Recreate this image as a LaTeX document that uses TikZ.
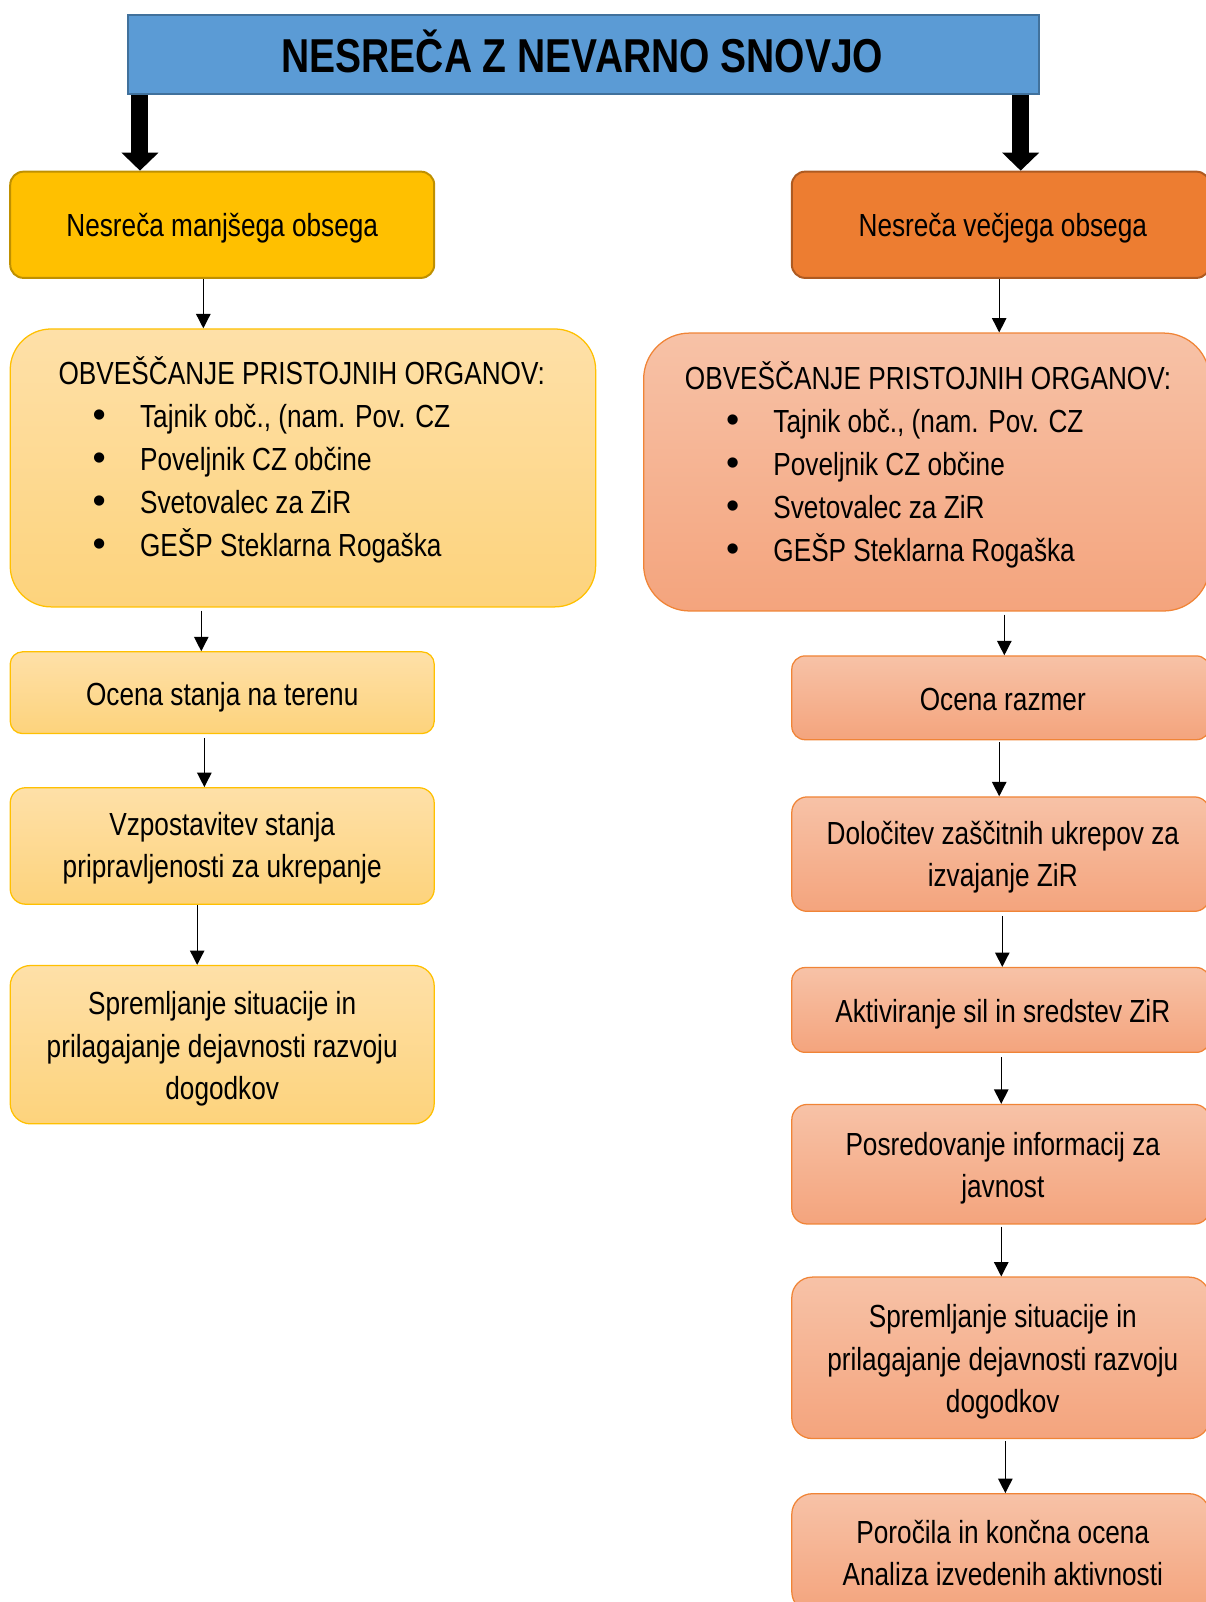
\documentclass[tikz,border=0pt]{standalone}
\usepackage{fontspec}
\setmainfont{Liberation Sans}[FakeStretch=0.82]
\newfontfamily\bulfont{Liberation Sans}
\usetikzlibrary{arrows.meta,fit}
\definecolor{titleblue}{HTML}{5B9BD5}
\definecolor{titleedge}{HTML}{41719C}
\definecolor{gold}{HTML}{FFC000}
\definecolor{goldedge}{HTML}{BF9000}
\definecolor{orng}{HTML}{ED7D31}
\definecolor{orngedge}{HTML}{AE5A21}
\definecolor{ytop}{HTML}{FEE0A8}
\definecolor{ybot}{HTML}{FDD37C}
\definecolor{otop}{HTML}{F7C2A7}
\definecolor{obot}{HTML}{F4A47D}
\definecolor{oedge}{HTML}{F08436}
\newcommand{\bulitem}[2]{\makebox[#2][l]{\hspace{#1}{\bulfont\fontsize{21}{21}\selectfont •}}}
\begin{document}
\begin{tikzpicture}[x=0.02cm,y=-0.02cm,
  txt/.style={font=\fontsize{17.8}{23.5}\selectfont, align=center, text=black, inner sep=0pt},
  titletxt/.style={font=\fontsize{26.5}{30}\selectfont\bfseries, text=black, inner sep=0pt},
  titlebox/.style={fill=titleblue, draw=titleedge, line width=1.1pt, inner sep=0pt},
  goldbox/.style={fill=gold, draw=goldedge, line width=1.1pt, inner sep=0pt, rounded corners=0.26cm},
  orngbox/.style={fill=orng, draw=orngedge, line width=1.1pt, inner sep=0pt, rounded corners=0.26cm},
  ybox/.style={top color=ytop, bottom color=ybot, draw=gold, line width=0.7pt, inner sep=0pt},
  obox/.style={top color=otop, bottom color=obot, draw=oedge, line width=0.7pt, inner sep=0pt},
  listtxt/.style={font=\fontsize{17.8}{24}\selectfont, align=left, text=black, inner sep=0pt, anchor=west},
  thinarr/.style={line width=0.75pt, -{Triangle[width=8pt,length=8pt]}},
  bigarr/.style={line width=9.5pt, -{Triangle[width=20pt,length=10pt]}}
]
\useasboundingbox (0,0) rectangle (1180,1568);

% title
\node[titlebox, fit={(125,15)(1017,92)}] (title) {};
\node[titletxt] (titlet) at ([xshift=-0.02cm,yshift=0.07cm]title.center) {NESREČA Z NEVARNO SNOVJO};

% left column
\node[goldbox, fit={(10,168)(425,272)}] (L1) {};
\node[txt] (L1t) at ([yshift=-0.06cm]L1.center) {Nesreča manjšega obsega};
\node[ybox, rounded corners=0.8cm, fit={(10,322)(583,594)}] (L2) {};
\node[listtxt] (L2t) at (57,450) {OBVEŠČANJE PRISTOJNIH ORGANOV:\\
  \bulitem{19pt}{45.4pt}Tajnik obč., (nam. Pov. CZ\\
  \bulitem{19pt}{45.4pt}Poveljnik CZ občine\\
  \bulitem{19pt}{45.4pt}Svetovalec za ZiR\\
  \bulitem{19pt}{45.4pt}GEŠP Steklarna Rogaška};
\node[ybox, rounded corners=0.24cm, fit={(10,638)(425,718)}] (L3) {};
\node[txt] (L3t) at ([yshift=-0.08cm]L3.center) {Ocena stanja na terenu};
\node[ybox, rounded corners=0.3cm, fit={(10,771)(425,885)}] (L4) {};
\node[txt] (L4t) at ([yshift=-0.04cm]L4.center) {Vzpostavitev stanja\\pripravljenosti za ukrepanje};
\node[ybox, rounded corners=0.4cm, fit={(10,945)(425,1100)}] (L5) {};
\node[txt] (L5t) at ([yshift=-0.08cm]L5.center) {Spremljanje situacije in\\prilagajanje dejavnosti razvoju\\dogodkov};

% right column
\node[orngbox, fit={(775,168)(1184,272)}] (R1) {};
\node[txt] (R1t) at ([xshift=0.04cm,yshift=-0.06cm]R1.center) {Nesreča večjega obsega};
\node[obox, rounded corners=0.9cm, fit={(630,326)(1184,598)}] (R2) {};
\node[listtxt] (R2t) at (670,455) {OBVEŠČANJE PRISTOJNIH ORGANOV:\\
  \bulitem{23pt}{49.3pt}Tajnik obč., (nam. Pov. CZ\\
  \bulitem{23pt}{49.3pt}Poveljnik CZ občine\\
  \bulitem{23pt}{49.3pt}Svetovalec za ZiR\\
  \bulitem{23pt}{49.3pt}GEŠP Steklarna Rogaška};
\node[obox, rounded corners=0.26cm, fit={(775,642)(1184,724)}] (R3) {};
\node[txt] (R3t) at ([xshift=0.04cm,yshift=-0.04cm]R3.center) {Ocena razmer};
\node[obox, rounded corners=0.3cm, fit={(775,780)(1184,892)}] (R4) {};
\node[txt] (R4t) at ([xshift=0.04cm,yshift=-0.06cm]R4.center) {Določitev zaščitnih ukrepov za\\izvajanje ZiR};
\node[obox, rounded corners=0.26cm, fit={(775,947)(1184,1030)}] (R5) {};
\node[txt] (R5t) at ([xshift=0.04cm,yshift=-0.08cm]R5.center) {Aktiviranje sil in sredstev ZiR};
\node[obox, rounded corners=0.3cm, fit={(775,1081)(1184,1198)}] (R6) {};
\node[txt] (R6t) at ([xshift=0.04cm,yshift=-0.08cm]R6.center) {Posredovanje informacij za\\javnost};
\node[obox, rounded corners=0.4cm, fit={(775,1250)(1184,1408)}] (R7) {};
\node[txt] (R7t) at ([xshift=0.04cm,yshift=-0.08cm]R7.center) {Spremljanje situacije in\\prilagajanje dejavnosti razvoju\\dogodkov};
\node[obox, rounded corners=0.4cm, fit={(775,1462)(1184,1578)}] (R8) {};
\node[txt] (R8t) at ([xshift=0.04cm]R8.center) {Poročila in končna ocena\\Analiza izvedenih aktivnosti};

% x positions of connectors
\coordinate (xt1) at (137,0);
\coordinate (xt2) at (999,0);
\coordinate (xl1) at (199,0);
\coordinate (xl2) at (197,0);
\coordinate (xl3) at (200,0);
\coordinate (xl4) at (193,0);
\coordinate (xr1) at (978,0);
\coordinate (xr2) at (983,0);
\coordinate (xr3) at (978,0);
\coordinate (xr4) at (981,0);
\coordinate (xr5) at (980,0);
\coordinate (xr6) at (980,0);
\coordinate (xr7) at (984,0);

% thick arrows
\draw[bigarr] (title.south -| xt1) -- (L1.north -| xt1);
\draw[bigarr] (title.south -| xt2) -- (R1.north -| xt2);

% thin arrows left
\draw[thinarr] (L1.south -| xl1) -- (L2.north -| xl1);
\draw[thinarr] ([yshift=-0.06cm]L2.south -| xl2) -- (L3.north -| xl2);
\draw[thinarr] ([yshift=-0.08cm]L3.south -| xl3) -- (L4.north -| xl3);
\draw[thinarr] (L4.south -| xl4) -- (L5.north -| xl4);

% thin arrows right
\draw[thinarr] (R1.south -| xr1) -- (R2.north -| xr1);
\draw[thinarr] ([yshift=-0.06cm]R2.south -| xr2) -- (R3.north -| xr2);
\draw[thinarr] ([yshift=-0.04cm]R3.south -| xr3) -- (R4.north -| xr3);
\draw[thinarr] ([yshift=-0.08cm]R4.south -| xr4) -- (R5.north -| xr4);
\draw[thinarr] ([yshift=-0.08cm]R5.south -| xr5) -- (R6.north -| xr5);
\draw[thinarr] ([yshift=-0.04cm]R6.south -| xr6) -- (R7.north -| xr6);
\draw[thinarr] ([yshift=-0.04cm]R7.south -| xr7) -- (R8.north -| xr7);
\end{tikzpicture}
\end{document}
